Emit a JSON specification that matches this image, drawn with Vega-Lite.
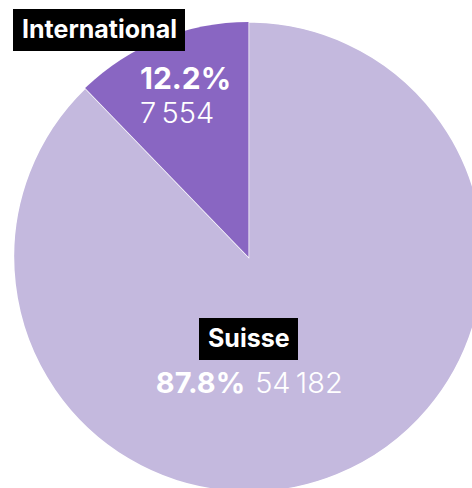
{
  "$schema": "https://vega.github.io/schema/vega-lite/v6.json",
  "width": 497,
  "height": 514,
  "autosize": {"type": "none"},
  "padding": 0,
  "background": "white",
  "config": {
    "view": {"stroke": null},
    "locale": {"number": {"decimal": ".", "thousands": "\u2009", "grouping": [3], "currency": ["", ""]}}
  },
  "data": {"values": [
    {"region": "Suisse", "count": 54182, "share": 0.878},
    {"region": "International", "count": 7554, "share": 0.122}
  ]},
  "layer": [
    {
      "mark": {"type": "arc", "outerRadius": 235, "strokeWidth": 1.5},
      "encoding": {
        "theta": {"field": "count", "type": "quantitative", "stack": true},
        "order": {"field": "region", "sort": "descending"},
        "fill": {
          "field": "region", "type": "nominal",
          "scale": {"domain": ["Suisse", "International"], "range": ["#c4b9de", "#8966c2"]},
          "legend": {
            "values": ["International"], "orient": "none", "legendX": 13, "legendY": 9,
            "title": null, "fillColor": "black", "padding": 8, "strokeColor": null,
            "labelColor": "white", "labelFont": "Inter", "labelFontSize": 25, "labelFontWeight": "bold",
            "labelLimit": 400, "labelOffset": -24, "symbolSize": 1, "symbolStrokeWidth": 0, "symbolOpacity": 0
          }
        },
        "stroke": {
          "field": "region", "type": "nominal",
          "scale": {"domain": ["Suisse"], "range": ["#ffffff"]},
          "legend": {
            "values": ["Suisse"], "orient": "none", "legendX": 199, "legendY": 318,
            "title": null, "fillColor": "black", "padding": 8, "strokeColor": null,
            "labelColor": "white", "labelFont": "Inter", "labelFontSize": 25, "labelFontWeight": "bold",
            "labelLimit": 400, "labelOffset": -24, "symbolSize": 1, "symbolStrokeWidth": 0, "symbolOpacity": 0
          }
        }
      }
    },
    {
      "mark": {"type": "text", "radius": 180, "align": "left", "baseline": "alphabetic", "dx": -41, "dy": -1, "font": "Inter", "fontSize": 30, "fontWeight": "bold", "fill": "white"},
      "encoding": {
        "theta": {"field": "count", "type": "quantitative", "stack": true},
        "order": {"field": "region", "sort": "descending"},
        "detail": {"field": "region", "type": "nominal"},
        "text": {"condition": {"test": "datum.region === 'International'", "field": "share", "type": "quantitative", "format": ".1%"}, "value": ""}
      }
    },
    {
      "mark": {"type": "text", "radius": 180, "align": "left", "baseline": "alphabetic", "dx": -41, "dy": 33, "font": "Inter", "fontSize": 29, "fontWeight": 300, "fill": "white"},
      "encoding": {
        "theta": {"field": "count", "type": "quantitative", "stack": true},
        "order": {"field": "region", "sort": "descending"},
        "detail": {"field": "region", "type": "nominal"},
        "text": {"condition": {"test": "datum.region === 'International'", "field": "count", "type": "quantitative", "format": ",d"}, "value": ""}
      }
    },
    {
      "mark": {"type": "text", "radius": 147, "align": "right", "baseline": "alphabetic", "dx": -58.5, "dy": 0, "font": "Inter", "fontSize": 29, "fontWeight": "bold", "fill": "white"},
      "encoding": {
        "theta": {"field": "count", "type": "quantitative", "stack": true},
        "order": {"field": "region", "sort": "descending"},
        "detail": {"field": "region", "type": "nominal"},
        "text": {"condition": {"test": "datum.region === 'Suisse'", "field": "share", "type": "quantitative", "format": ".1%"}, "value": ""}
      }
    },
    {
      "mark": {"type": "text", "radius": 147, "align": "left", "baseline": "alphabetic", "dx": -48.5, "dy": 0, "font": "Inter", "fontSize": 29, "fontWeight": 300, "fill": "white"},
      "encoding": {
        "theta": {"field": "count", "type": "quantitative", "stack": true},
        "order": {"field": "region", "sort": "descending"},
        "detail": {"field": "region", "type": "nominal"},
        "text": {"condition": {"test": "datum.region === 'Suisse'", "field": "count", "type": "quantitative", "format": ",d"}, "value": ""}
      }
    }
  ]
}
